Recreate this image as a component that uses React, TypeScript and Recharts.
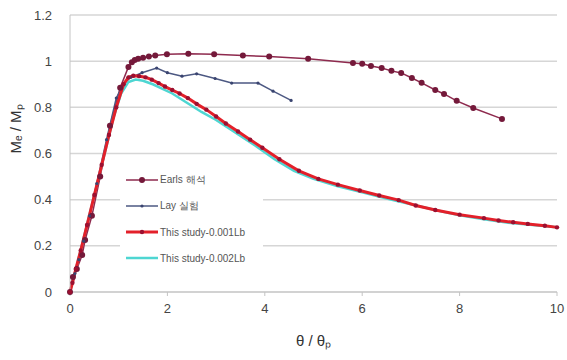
import { LineChart, Line, XAxis, YAxis, CartesianGrid, Legend } from "recharts";

const X_TICKS = [0, 2, 4, 6, 8, 10];
const Y_TICKS = [0, 0.2, 0.4, 0.6, 0.8, 1, 1.2];

const EARLS_X = [0, 0.06, 0.14, 0.25, 0.31, 0.45, 0.62, 0.82, 1.03, 1.2, 1.27, 1.33, 1.4, 1.5, 1.62, 1.75, 1.99, 2.43, 2.96, 3.55, 4.09, 4.89, 5.81, 6.0, 6.18, 6.4, 6.6, 6.8, 7.02, 7.22, 7.5, 7.68, 7.94, 8.28, 8.87];
const EARLS_Y = [0, 0.065, 0.1, 0.16, 0.225, 0.33, 0.5, 0.72, 0.885, 0.975, 0.995, 1.005, 1.01, 1.015, 1.02, 1.025, 1.03, 1.032, 1.03, 1.025, 1.02, 1.01, 0.992, 0.989, 0.979, 0.97, 0.958, 0.949, 0.927, 0.906, 0.875, 0.858, 0.828, 0.797, 0.75];

const LAY_X = [0, 0.05, 0.1, 0.18, 0.28, 0.4, 0.55, 0.75, 0.95, 1.1, 1.25, 1.48, 1.78, 2.0, 2.3, 2.6, 2.98, 3.32, 3.86, 4.17, 4.54];
const LAY_Y = [0, 0.04, 0.08, 0.14, 0.22, 0.33, 0.47, 0.66, 0.84, 0.9, 0.93, 0.95, 0.97, 0.95, 0.935, 0.945, 0.925, 0.905, 0.905, 0.87, 0.83];

const S1_X = [0, 0.05, 0.12, 0.22, 0.35, 0.5, 0.65, 0.8, 0.95, 1.1, 1.2, 1.3, 1.42, 1.55, 1.68, 1.82, 1.95, 2.1, 2.25, 2.42, 2.6, 2.8, 3.0, 3.2, 3.45, 3.7, 3.95, 4.3, 4.7, 5.1, 5.5, 5.95, 6.35, 6.75, 7.1, 7.5, 8.0, 8.5, 8.8, 9.1, 9.4, 9.75, 10];
const S1_Y = [0, 0.04, 0.1, 0.18, 0.29, 0.42, 0.55, 0.68, 0.8, 0.9, 0.93, 0.937, 0.935, 0.93, 0.92, 0.905, 0.89, 0.875, 0.86, 0.84, 0.815, 0.79, 0.76, 0.73, 0.695, 0.66, 0.625, 0.575, 0.525, 0.49, 0.465, 0.44, 0.418, 0.398, 0.375, 0.355, 0.335, 0.32, 0.31, 0.302, 0.295, 0.287, 0.28];

const S2_X = [0, 0.1, 0.3, 0.5, 0.7, 0.9, 1.05, 1.2, 1.35, 1.5, 1.7, 1.9, 2.1, 2.4, 2.7, 3.0, 3.4, 3.8, 4.2, 4.6, 5.0, 5.5, 6.0, 6.5, 7.0, 7.5, 8.0, 8.5, 9.0, 9.5, 10];
const S2_Y = [0, 0.08, 0.25, 0.42, 0.59, 0.76, 0.86, 0.91, 0.92, 0.915, 0.9, 0.88, 0.86, 0.82, 0.78, 0.745, 0.69, 0.635, 0.575, 0.525, 0.49, 0.458, 0.432, 0.405, 0.38, 0.355, 0.332, 0.315, 0.3, 0.29, 0.28];

const zip = (xs: number[], ys: number[]) => xs.map((x, i) => ({ x, y: ys[i] }));

const SERIES = [
  { name: "Earls 해석", data: zip(EARLS_X, EARLS_Y), stroke: "#8e2a4e", width: 1.5, dot: "#74193a", r: 3 },
  { name: "Lay 실험", data: zip(LAY_X, LAY_Y), stroke: "#4c5882", width: 1.5, dot: "#3a4470", r: 1.6 },
  { name: "This study-0.001Lb", data: zip(S1_X, S1_Y), stroke: "#e3202a", width: 3, dot: "#9c1030", r: 2.2 },
  { name: "This study-0.002Lb", data: zip(S2_X, S2_Y), stroke: "#4ed6d2", width: 2.5, dot: null, r: 0 },
];

const GRID = "#d6d6d6";
const TICK = { fill: "#444", fontSize: 13 };
const FONT = "'Liberation Sans', Arial, sans-serif";

function LegendBox() {
  return (
    <div style={{ background: "#fff", padding: "4px 6px", fontFamily: FONT }}>
      {SERIES.map((s) => (
        <div key={s.name} style={{ display: "flex", alignItems: "center", height: 26 }}>
          <svg width={32} height={10}>
            <line x1={0} y1={5} x2={32} y2={5} stroke={s.stroke} strokeWidth={s.width} />
            {s.dot && <circle cx={16} cy={5} r={s.r} fill={s.dot} />}
          </svg>
          <span style={{ fontSize: 10, color: "#555", marginLeft: 2 }}>{s.name}</span>
        </div>
      ))}
    </div>
  );
}

export default function App() {
  const draw = [SERIES[0], SERIES[1], SERIES[3], SERIES[2]];
  return (
    <div style={{ position: "absolute", left: 0, top: 0, background: "#fff", fontFamily: FONT }}>
      <LineChart width={567} height={360} margin={{ top: 15, right: 10, left: 0, bottom: 0 }}>
        <CartesianGrid stroke={GRID} strokeWidth={1.5} vertical={false} />
        <XAxis
          type="number"
          dataKey="x"
          domain={[0, 10]}
          ticks={X_TICKS}
          height={68}
          tick={TICK}
          tickSize={4}
          tickMargin={8}
          stroke="#c4c4c4"
          label={{ value: "θ / θₚ", position: "insideBottom", offset: 14, fill: "#333", fontSize: 15 }}
        />
        <YAxis
          type="number"
          dataKey="y"
          domain={[0, 1.2]}
          ticks={Y_TICKS}
          width={70}
          tick={TICK}
          tickLine={false}
          tickMargin={12}
          stroke="#c4c4c4"
          label={{ value: "Mₑ / Mₚ", angle: -90, position: "insideLeft", offset: 16, fill: "#333", fontSize: 15 }}
        />
        <Legend
          layout="vertical"
          align="center"
          verticalAlign="middle"
          content={() => <LegendBox />}
          wrapperStyle={{ left: 120, top: 163, width: 143 }}
        />
        {draw.map((s) => (
          <Line
            key={s.name}
            name={s.name}
            data={s.data}
            dataKey="y"
            type="linear"
            stroke={s.stroke}
            strokeWidth={s.width}
            dot={s.dot ? { r: s.r, fill: s.dot, stroke: "none" } : false}
            isAnimationActive={false}
          />
        ))}
      </LineChart>
    </div>
  );
}
